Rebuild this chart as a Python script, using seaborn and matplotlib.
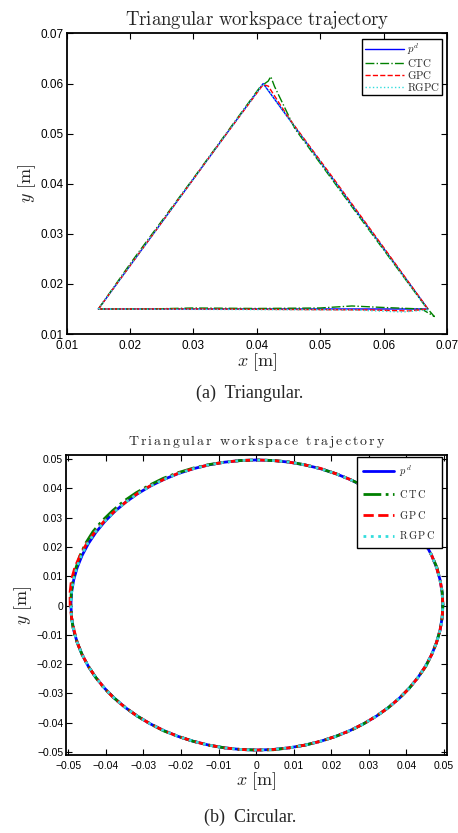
import matplotlib
matplotlib.use('Agg')
import matplotlib.pyplot as plt
import numpy as np
import seaborn as sns
from matplotlib.ticker import FuncFormatter

# ---- data: triangular trajectory (waypoints) ----
pd_tri_x = [0.015, 0.0410, 0.0670, 0.015]
pd_tri_y = [0.015, 0.0600, 0.0150, 0.015]

ctc_tri_x = [0.015, 0.0200, 0.0215, 0.0300, 0.0405, 0.0418, 0.0422, 0.0428, 0.0460,
             0.0500, 0.0560, 0.0620, 0.0665, 0.0680, 0.0660, 0.0600, 0.0550, 0.0500,
             0.0400, 0.0300, 0.0230, 0.0150]
ctc_tri_y = [0.015, 0.0240, 0.0266, 0.0411, 0.0593, 0.0605, 0.0614, 0.0594, 0.0510,
             0.0441, 0.0337, 0.0234, 0.0157, 0.0135, 0.0150, 0.0153, 0.0156, 0.0152,
             0.0151, 0.0152, 0.0150, 0.0150]

gpc_tri_x = [0.015, 0.0250, 0.0350, 0.0410, 0.0418, 0.0450, 0.0520, 0.0600, 0.0670,
             0.0640, 0.0580, 0.0450, 0.0300, 0.0150]
gpc_tri_y = [0.015, 0.0323, 0.0496, 0.0598, 0.0595, 0.0532, 0.0412, 0.0273, 0.0150,
             0.0146, 0.0148, 0.0149, 0.0150, 0.0150]

rgpc_tri_x = [0.015, 0.0410, 0.0670, 0.0630, 0.0550, 0.0150]
rgpc_tri_y = [0.015, 0.0600, 0.0148, 0.0144, 0.0148, 0.0150]

# ---- data: circular trajectory, angle [deg] and radius [m] per point ----
circ_cx, circ_cy = 0.0002, 0.0002
angles_deg = list(range(0, 365, 5))
pd_r = [0.0495] * len(angles_deg)
ctc_r = [0.0495, 0.0495, 0.0495, 0.0496, 0.0495, 0.0495, 0.0495, 0.0496, 0.0495, 0.0495,
         0.0495, 0.0496, 0.0495, 0.0495, 0.0495, 0.0495, 0.0496, 0.0495, 0.0495, 0.0495,
         0.0495, 0.0496, 0.0497, 0.0498, 0.0499, 0.0499, 0.0500, 0.0501, 0.0501, 0.0502,
         0.0503, 0.0502, 0.0500, 0.0498, 0.0497, 0.0496, 0.0495, 0.0495, 0.0496, 0.0495,
         0.0495, 0.0495, 0.0495, 0.0496, 0.0495, 0.0495, 0.0495, 0.0495, 0.0496, 0.0495,
         0.0495, 0.0495, 0.0495, 0.0495, 0.0495, 0.0496, 0.0495, 0.0495, 0.0495, 0.0495,
         0.0496, 0.0495, 0.0495, 0.0495, 0.0495, 0.0495, 0.0495, 0.0496, 0.0495, 0.0495,
         0.0495, 0.0495, 0.0495]
gpc_r = [0.0495, 0.0495, 0.0495, 0.0495, 0.0495, 0.0495, 0.0495, 0.0495, 0.0495, 0.0495,
         0.0495, 0.0495, 0.0495, 0.0495, 0.0496, 0.0495, 0.0495, 0.0495, 0.0495, 0.0495,
         0.0495, 0.0495, 0.0495, 0.0496, 0.0495, 0.0496, 0.0496, 0.0495, 0.0496, 0.0497,
         0.0498, 0.0499, 0.0500, 0.0501, 0.0501, 0.0499, 0.0497, 0.0495, 0.0494, 0.0495,
         0.0495, 0.0495, 0.0495, 0.0495, 0.0496, 0.0495, 0.0495, 0.0495, 0.0495, 0.0495,
         0.0495, 0.0495, 0.0495, 0.0495, 0.0495, 0.0495, 0.0495, 0.0495, 0.0495, 0.0495,
         0.0495, 0.0495, 0.0495, 0.0495, 0.0495, 0.0495, 0.0495, 0.0495, 0.0495, 0.0495,
         0.0495, 0.0495, 0.0495]
rgpc_r = [0.0495, 0.0495, 0.0495, 0.0495, 0.0495, 0.0495, 0.0495, 0.0495, 0.0495, 0.0495,
          0.0495, 0.0495, 0.0495, 0.0495, 0.0495, 0.0495, 0.0495, 0.0495, 0.0495, 0.0495,
          0.0495, 0.0495, 0.0495, 0.0495, 0.0495, 0.0495, 0.0495, 0.0495, 0.0495, 0.0496,
          0.0497, 0.0497, 0.0497, 0.0496, 0.0496, 0.0495, 0.0495, 0.0495, 0.0495, 0.0495,
          0.0495, 0.0495, 0.0495, 0.0495, 0.0495, 0.0495, 0.0495, 0.0495, 0.0495, 0.0495,
          0.0495, 0.0495, 0.0495, 0.0495, 0.0495, 0.0495, 0.0495, 0.0495, 0.0495, 0.0495,
          0.0495, 0.0495, 0.0495, 0.0495, 0.0495, 0.0495, 0.0495, 0.0495, 0.0495, 0.0495,
          0.0495, 0.0495, 0.0495]

labels_a = [r'$p^d$', r'$\mathrm{CTC}$', r'$\mathrm{GPC}$', r'$\mathrm{RGPC}$']
labels_b = [r'$p^{\,d}$', r'$\mathrm{C\,T\,C}$', r'$\mathrm{G\,P\,C}$', r'$\mathrm{R\,G\,P\,C}$']
colors = ['#0000ff', '#008000', '#ff0000', '#33dddd']
styles = ['-', '-.', '--', ':']

tri_ticks = [0.01, 0.02, 0.03, 0.04, 0.05, 0.06, 0.07]
circ_ticks = [-0.05, -0.04, -0.03, -0.02, -0.01, 0, 0.01, 0.02, 0.03, 0.04, 0.05]

sns.set_theme(style='ticks')
plt.rcParams['font.family'] = ['Liberation Sans', 'DejaVu Sans']
plt.rcParams['mathtext.fontset'] = 'cm'
plt.rcParams['xtick.direction'] = 'in'
plt.rcParams['ytick.direction'] = 'in'
plt.rcParams['xtick.top'] = True
plt.rcParams['ytick.right'] = True


def polar_xy(r, ang):
    a = np.deg2rad(np.array(ang))
    return circ_cx + np.array(r) * np.cos(a), circ_cy + np.array(r) * np.sin(a)


def tick_fmt(v, _):
    if abs(v) < 1e-9:
        return '0'
    return ('%g' % round(v, 3)).replace('-', '\u2212')


def style_axes(ax, fs):
    for s in ax.spines.values():
        s.set_linewidth(1.3)
        s.set_color('black')
    ax.tick_params(which='both', length=4, width=0.8, color='black',
                   labelsize=fs, labelcolor='black', pad=2)
    ax.tick_params(axis='x', pad=4)
    ax.xaxis.set_major_formatter(FuncFormatter(tick_fmt))
    ax.yaxis.set_major_formatter(FuncFormatter(tick_fmt))


fig = plt.figure(figsize=(4.58, 8.33), dpi=100)
ax1 = fig.add_axes([0.1456, 0.599, 0.8303, 0.3608])
ax2 = fig.add_axes([0.1441, 0.0936, 0.8319, 0.3602])

# top: triangle
tri = [(pd_tri_x, pd_tri_y), (ctc_tri_x, ctc_tri_y), (gpc_tri_x, gpc_tri_y), (rgpc_tri_x, rgpc_tri_y)]
for (xs, ys), lab, c, ls in zip(tri, labels_a, colors, styles):
    sns.lineplot(x=xs, y=ys, sort=False, estimator=None, ax=ax1, color=c,
                 linestyle=ls, linewidth=1.0, label=lab)
ax1.set_xlim(0.01, 0.07)
ax1.set_ylim(0.01, 0.07)
ax1.set_xticks(tri_ticks)
ax1.set_yticks(tri_ticks)
style_axes(ax1, 8.5)
ax1.set_title(r'$\mathrm{Triangular\ workspace\ trajectory}$', fontsize=13.5, pad=6)
ax1.set_xlabel(r'$x\ [\mathrm{m}]$', fontsize=13, labelpad=0)
ax1.set_ylabel(r'$y\ [\mathrm{m}]$', fontsize=13, labelpad=2)
leg1 = ax1.legend(loc='upper right', bbox_to_anchor=(0.987, 0.982), borderaxespad=0,
                  fontsize=7.8, handlelength=3.6, labelspacing=0.0, handletextpad=0.3,
                  borderpad=0.2, fancybox=False, framealpha=1, edgecolor='black')
leg1.get_frame().set_linewidth(1.0)

# bottom: circle
circ = [polar_xy(r, angles_deg) for r in (pd_r, ctc_r, gpc_r, rgpc_r)]
for (xs, ys), lab, c, ls in zip(circ, labels_b, colors, styles):
    sns.lineplot(x=xs, y=ys, sort=False, estimator=None, ax=ax2, color=c,
                 linestyle=ls, linewidth=2.0, label=lab)
ax2.set_xlim(-0.0506, 0.0508)
ax2.set_ylim(-0.0510, 0.0514)
ax2.set_xticks(circ_ticks)
ax2.set_yticks(circ_ticks)
style_axes(ax2, 7.5)
ax2.set_title(r'$\mathrm{T\,r\,i\,a\,n\,g\,u\,l\,a\,r\ \ w\,o\,r\,k\,s\,p\,a\,c\,e\ \ t\,r\,a\,j\,e\,c\,t\,o\,r\,y}$',
              fontsize=10, pad=7)
ax2.set_xlabel(r'$x\ [\mathrm{m}]$', fontsize=13, labelpad=0)
ax2.set_ylabel(r'$y\ [\mathrm{m}]$', fontsize=13, labelpad=2)
leg2 = ax2.legend(loc='upper right', bbox_to_anchor=(0.987, 0.993), borderaxespad=0,
                  fontsize=7.5, handlelength=3.0, labelspacing=0.85, handletextpad=0.5,
                  borderpad=0.6, fancybox=False, framealpha=1, edgecolor='black')
leg2.get_frame().set_linewidth(1.0)

fig.text(0.546, 1 - 393 / 833, '(a)  Triangular.', family='Liberation Serif',
         fontsize=13, ha='center', va='center')
fig.text(0.546, 1 - 817 / 833, '(b)  Circular.', family='Liberation Serif',
         fontsize=13, ha='center', va='center')

fig.savefig('out.png', dpi=100)
